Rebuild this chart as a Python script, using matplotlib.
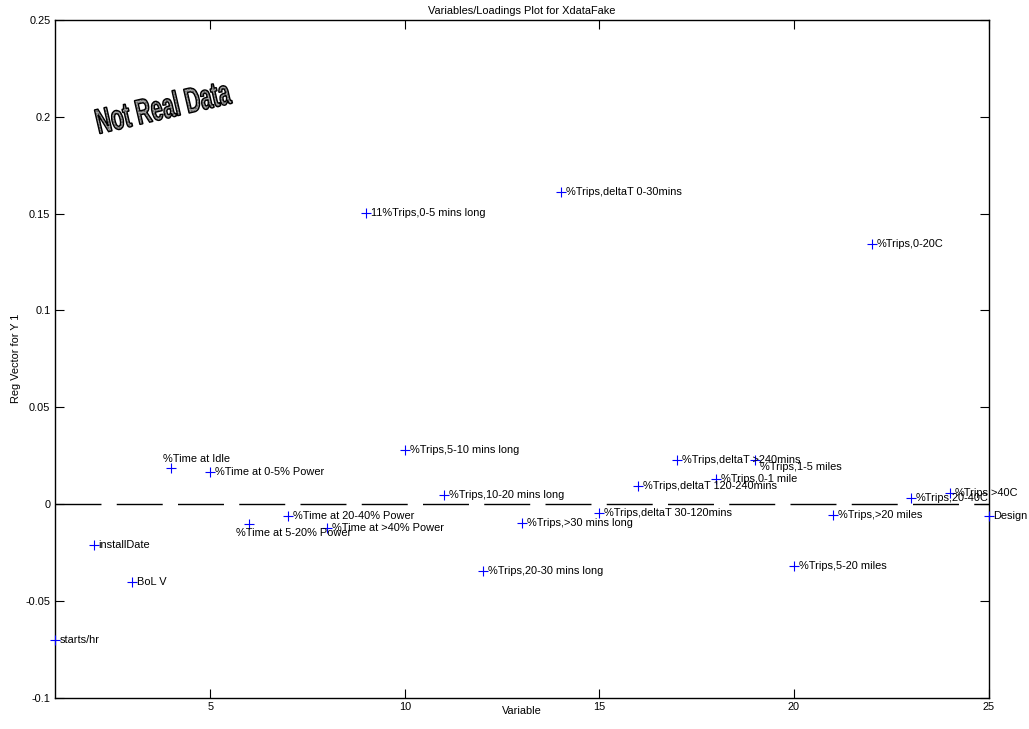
import numpy as np
import matplotlib
matplotlib.use("Agg")
import matplotlib.pyplot as plt
from matplotlib.textpath import TextPath
from matplotlib.font_manager import FontProperties
from matplotlib.patches import PathPatch
from matplotlib.transforms import Affine2D

plt.rcParams["font.family"] = ["Liberation Sans", "DejaVu Sans"]
plt.rcParams["lines.scale_dashes"] = False

# ---- data -------------------------------------------------------------
variables = np.arange(1, 26)
names = [
    "starts/hr", "installDate", "BoL V", "%Time at Idle",
    "%Time at 0-5% Power", "%Time at 5-20% Power", "%Time at 20-40% Power",
    "%Time at >40% Power", "11%Trips,0-5 mins long", "%Trips,5-10 mins long",
    "%Trips,10-20 mins long", "%Trips,20-30 mins long", "%Trips,>30 mins long",
    "%Trips,deltaT 0-30mins", "%Trips,deltaT 30-120mins",
    "%Trips,deltaT 120-240mins", "%Trips,deltaT >240mins", "%Trips,0-1 mile",
    "%Trips,1-5 miles", "%Trips,5-20 miles", "%Trips,>20 miles",
    "%Trips,0-20C", "%Trips,20-40C", "%Trips,>40C", "Design",
]
loadings = [
    -0.0702, -0.0210, -0.0401, 0.0188, 0.0164, -0.0102, -0.0062, -0.0122,
    0.1505, 0.0279, 0.0047, -0.0344, -0.0097, 0.1610, -0.0045, 0.0091,
    0.0227, 0.0128, 0.0227, -0.0320, -0.0057, 0.1341, 0.0033, 0.0055,
    -0.0060,
]
xticks = [5, 10, 15, 20, 25]
yticks = [-0.1, -0.05, 0, 0.05, 0.1, 0.15, 0.2, 0.25]
ytick_labels = ["-0.1", "-0.05", "0", "0.05", "0.1", "0.15", "0.2", "0.25"]

# label placement (offset in points from each marker)
default_offset = (3.6, 0.0)
label_offsets = {4: (-6.3, 6.3), 6: (-9.8, -6.5), 19: (3.6, -4.8)}

# ---- figure -----------------------------------------------------------
fig = plt.figure(figsize=(10.29, 7.29), dpi=100)
ax = fig.add_axes([0.0531, 0.0432, 0.9076, 0.9294])

ax.axhline(0, color="black", lw=1.0, ls=(0, (33.1, 11.0)), zorder=1)
ax.plot(variables, loadings, ls="none", marker="+", color="blue",
        ms=7.2, mew=0.8, zorder=3, clip_on=False)

for v, y, name in zip(variables, loadings, names):
    dx, dy = label_offsets.get(int(v), default_offset)
    ax.annotate(name, (v, y), xytext=(dx, dy), textcoords="offset points",
                ha="left", va="center", fontsize=7.9, color="black",
                annotation_clip=False, zorder=4)

ax.set_xlim(1, 25)
ax.set_ylim(-0.1, 0.25)
ax.set_xticks(xticks)
ax.set_xticklabels([str(t) for t in xticks])
ax.set_yticks(yticks)
ax.set_yticklabels(ytick_labels)
ax.tick_params(direction="in", top=True, right=True, length=6.7, width=0.8,
               labelsize=7.9, pad=3)
for sp in ax.spines.values():
    sp.set_linewidth(1.0)

ax.set_title("Variables/Loadings Plot for XdataFake", fontsize=7.9, pad=4)
ax.set_xlabel("Variable", fontsize=7.9)
ax.set_ylabel("Reg Vector for Y 1", fontsize=7.9)
ax.xaxis.set_label_coords(0.5, -0.012)
ax.yaxis.set_label_coords(-0.036, 0.5)

# ---- slanted, condensed watermark -------------------------------------
tp = TextPath((0, 0), "Not Real Data", size=100,
              prop=FontProperties(family="Liberation Sans", weight="bold"))
bb = tp.get_extents()
sx = 136.0 / bb.width
sy = 26.0 / bb.height
tr = (Affine2D().translate(-bb.x0, -bb.y0).scale(sx, sy)
      .rotate_deg(13).translate(100, 729 - 134))
fill = PathPatch(tp, transform=tr, facecolor="#a8a8a8", edgecolor="#505050",
                 lw=0, hatch="......")
outline = PathPatch(tp, transform=tr, facecolor="none", edgecolor="black",
                    lw=1.0)
fig.add_artist(fill)
fig.add_artist(outline)

fig.savefig("out.png", dpi=100)
